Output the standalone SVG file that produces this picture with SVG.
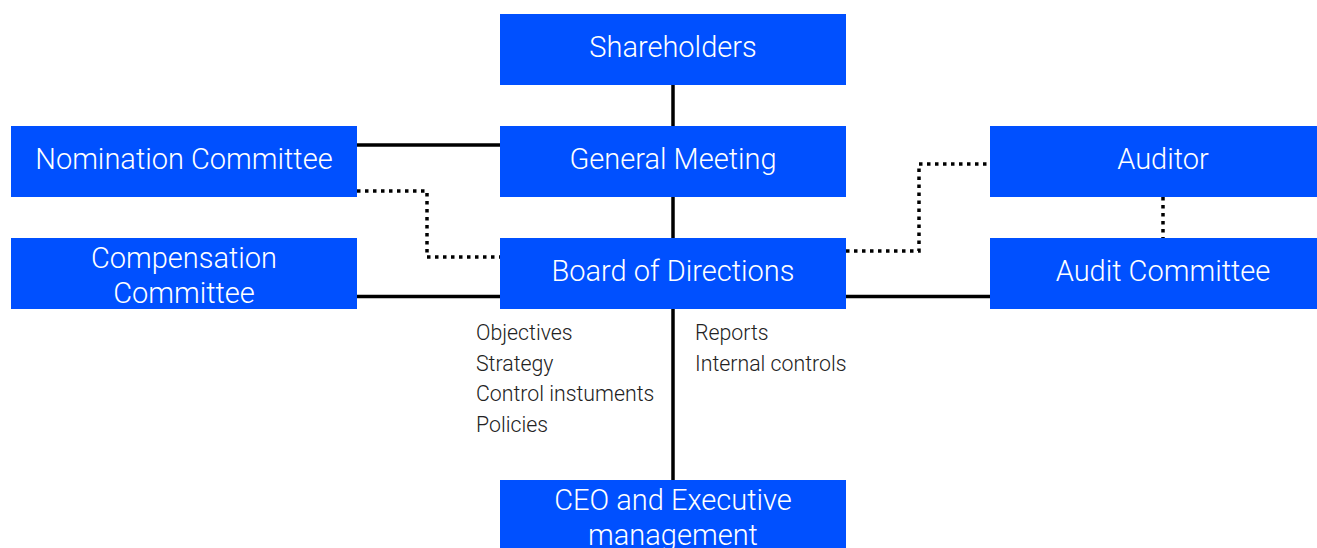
<svg xmlns="http://www.w3.org/2000/svg" width="1317" height="548" viewBox="0 0 1317 548">
<style>
.box{fill:#0050ff}
.bt{font-family:Roboto,"Liberation Sans",sans-serif;font-weight:300;font-size:29px;fill:#ffffff;text-anchor:middle}
.lt{font-family:Roboto,"Liberation Sans",sans-serif;font-weight:300;font-size:21.3px;fill:#222222}
.solid{stroke:#000;stroke-width:3.5;fill:none}
.dot{stroke:#000;stroke-width:3.5;fill:none;stroke-dasharray:3.5 4.5}
</style>
<rect width="1317" height="548" fill="#ffffff"/>
<g id="connectors">
<line class="solid" x1="673" y1="85" x2="673" y2="126"/>
<line class="solid" x1="673" y1="197" x2="673" y2="238"/>
<line class="solid" x1="673" y1="309" x2="673" y2="480"/>
<line class="solid" x1="357" y1="145" x2="500" y2="145"/>
<line class="solid" x1="357" y1="296.5" x2="500" y2="296.5"/>
<line class="solid" x1="846" y1="296.5" x2="990" y2="296.5"/>
<polyline class="dot" points="357,191 427,191 427,257 500,257"/>
<polyline class="dot" points="846,251 919,251 919,164 990,164"/>
<line class="dot" x1="1163" y1="197" x2="1163" y2="238"/>
</g>
<g id="shareholders"><rect class="box" x="500" y="14" width="346" height="71"/><text class="bt" x="673" y="57">Shareholders</text></g>
<g id="general-meeting"><rect class="box" x="500" y="126" width="346" height="71"/><text class="bt" x="673" y="169">General Meeting</text></g>
<g id="board"><rect class="box" x="500" y="238" width="346" height="71"/><text class="bt" x="673" y="281">Board of Directions</text></g>
<g id="ceo"><rect class="box" x="500" y="480" width="346" height="80"/><text class="bt" x="673" y="510">CEO and Executive</text><text class="bt" x="673" y="545">management</text></g>
<g id="nomination"><rect class="box" x="11" y="126" width="346" height="71"/><text class="bt" x="184" y="169">Nomination Committee</text></g>
<g id="compensation"><rect class="box" x="11" y="238" width="346" height="71"/><text class="bt" x="184" y="268">Compensation</text><text class="bt" x="184" y="303">Committee</text></g>
<g id="auditor"><rect class="box" x="990" y="126" width="327" height="71"/><text class="bt" x="1163" y="169">Auditor</text></g>
<g id="audit-committee"><rect class="box" x="990" y="238" width="327" height="71"/><text class="bt" x="1163" y="281">Audit Committee</text></g>
<g id="labels-left">
<text class="lt" x="476" y="340">Objectives</text>
<text class="lt" x="476" y="371">Strategy</text>
<text class="lt" x="476" y="401">Control instuments</text>
<text class="lt" x="476" y="432">Policies</text>
</g>
<g id="labels-right">
<text class="lt" x="695" y="340">Reports</text>
<text class="lt" x="695" y="371">Internal controls</text>
</g>
</svg>
